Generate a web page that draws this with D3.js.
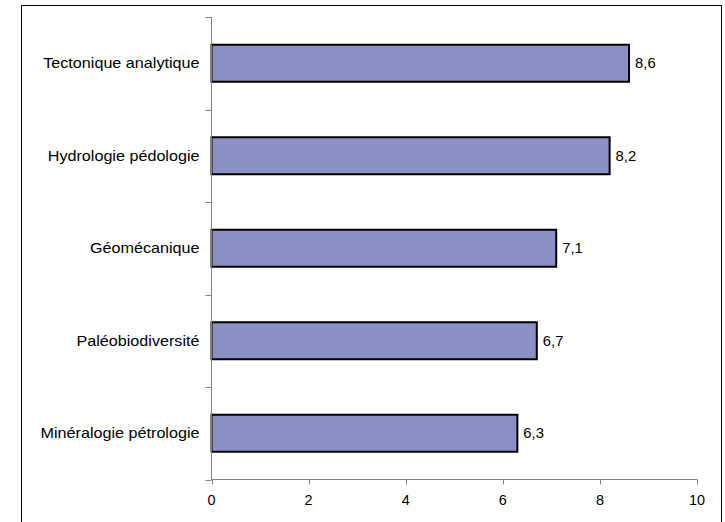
<!DOCTYPE html>
<html><head><meta charset="utf-8">
<script src="https://cdn.jsdelivr.net/npm/d3@7"></script>
<style>body{margin:0;background:#fff}svg{display:block}text{font-family:"Liberation Sans",Arial,sans-serif}</style>
</head><body>
<svg id="c" width="725" height="522"></svg>
<script>
const categories = ["Tectonique analytique","Hydrologie pédologie","Géomécanique","Paléobiodiversité","Minéralogie pétrologie"];
const values = [8.6, 8.2, 7.1, 6.7, 6.3];
const valueLabels = ["8,6","8,2","7,1","6,7","6,3"];
const xTicks = [0,2,4,6,8,10];

const svg = d3.select("#c");
svg.append("rect").attr("x",21.5).attr("y",5.5).attr("width",700).attr("height",530)
  .attr("fill","none").attr("stroke","#000").attr("stroke-width",1);

const x = d3.scaleLinear().domain([0,10]).range([211.5,697]);
const y = d3.scaleBand().domain(categories).range([17,479.5]).paddingInner(0.6).paddingOuter(0.3);
const yb = d3.scaleBand().domain(categories).range([17,479.5]);

// bars
svg.selectAll("rect.bar").data(categories).enter().append("rect")
  .attr("x", x(0)).attr("y", d=>y(d)).attr("width", (d,i)=>x(values[i])-x(0)).attr("height", y.bandwidth())
  .attr("fill","#8c8fc4").attr("stroke","#000").attr("stroke-width",2);

// value labels
svg.selectAll("text.val").data(categories).enter().append("text")
  .attr("transform",(d,i)=>`translate(${x(values[i])+6},${y(d)+y.bandwidth()/2}) scale(1.06,1)`)
  .attr("dy","0.35em")
  .attr("font-size",14).attr("fill","#000").text((d,i)=>valueLabels[i]);

// y axis
const ya = svg.append("g");
ya.append("line").attr("x1",x(0)).attr("x2",x(0)).attr("y1",17).attr("y2",479.5).attr("stroke","#808080");
const yTickPos = categories.map(c=>yb(c)).concat([479.5]);
ya.selectAll("line.t").data(yTickPos).enter().append("line")
  .attr("x1",x(0)-6).attr("x2",x(0)).attr("y1",d=>Math.round(d)+0.5).attr("y2",d=>Math.round(d)+0.5).attr("stroke","#808080");
ya.selectAll("text").data(categories).enter().append("text")
  .attr("transform",d=>`translate(199.5,${yb(d)+yb.bandwidth()/2}) scale(1.155,1)`)
  .attr("dy","0.35em").attr("text-anchor","end")
  .attr("font-size",14).attr("fill","#000").text(d=>d);

// x axis
const xa = svg.append("g").attr("transform","translate(0,479.5)");
xa.append("line").attr("x1",x(0)).attr("x2",x(10)).attr("stroke","#808080");
xa.selectAll("line.t").data(xTicks).enter().append("line")
  .attr("x1",d=>Math.round(x(d))+0.5).attr("x2",d=>Math.round(x(d))+0.5).attr("y1",0).attr("y2",5).attr("stroke","#808080");
xa.selectAll("text").data(xTicks).enter().append("text")
  .attr("transform",d=>`translate(${x(d)},21) scale(1.03,1)`)
  .attr("dy","0.35em").attr("text-anchor","middle")
  .attr("font-size",14).attr("fill","#000").text(d=>d);
</script>
</body></html>
